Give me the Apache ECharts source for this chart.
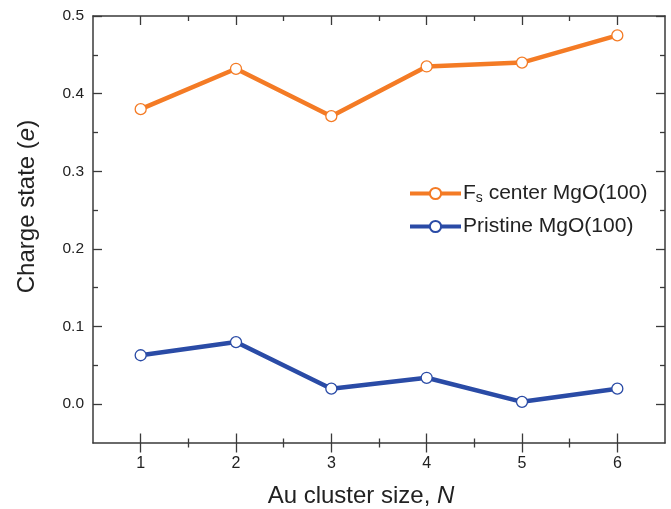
<!DOCTYPE html>
<html>
<head>
<meta charset="utf-8">
<script src="https://cdn.jsdelivr.net/npm/echarts@6/dist/echarts.min.js"></script>
<style>
html,body{margin:0;padding:0;background:#fff;}
#chart{width:671px;height:509px;}
</style>
</head>
<body>
<div id="chart"></div>
<script>
// ---- data ----
const clusterSizes = [1, 2, 3, 4, 5, 6];
const fsCenter = [0.380, 0.432, 0.371, 0.435, 0.440, 0.475];
const pristine = [0.063, 0.080, 0.020, 0.034, 0.003, 0.020];
const xMajorTicks = [1, 2, 3, 4, 5, 6];
const xMinorTicks = [1.5, 2.5, 3.5, 4.5, 5.5];
const yMajorTicks = [0.0, 0.1, 0.2, 0.3, 0.4, 0.5];
const yMinorTicks = [0.05, 0.15, 0.25, 0.35, 0.45];
const seriesNames = ['Fs center MgO(100)', 'Pristine MgO(100)'];

const FONT = 'Liberation Sans, Arial, Helvetica, sans-serif';
const AX = '#3a3a3a';
const ORANGE = '#F47B25';
const BLUE = '#2A4BA6';

const noLine = {show: false, onZero: false};
function xAx(opts) {
  return Object.assign({
    type: 'value', min: 0.5, max: 6.5, position: 'bottom', offset: 0,
    axisLine: noLine, splitLine: {show: false},
    axisLabel: {show: false}, axisTick: {show: false}
  }, opts);
}
function yAx(opts) {
  return Object.assign({
    type: 'value', min: -0.05, max: 0.5, position: 'left', offset: 0,
    axisLine: noLine, splitLine: {show: false},
    axisLabel: {show: false}, axisTick: {show: false}
  }, opts);
}
const tick = (vals, len, inside) => ({show: true, customValues: vals, length: len, inside: inside, lineStyle: {color: AX, width: 1.3}});
const line = {show: true, onZero: false, lineStyle: {color: AX, width: 1.5}};

const chart = echarts.init(document.getElementById('chart'), null, {renderer: 'canvas'});
chart.setOption({
  animation: false,
  backgroundColor: '#fff',
  textStyle: {fontFamily: FONT},
  grid: {left: 93, top: 16, right: 6, bottom: 66, containLabel: false, outerBoundsMode: 'none'},
  legend: {
    orient: 'vertical', left: 403, top: 178, itemWidth: 51, itemHeight: 14, itemGap: 11,
    data: seriesNames,
    lineStyle: {width: 4},
    formatter: function (name) {
      if (name === seriesNames[0]) return '{n|F}{sub|s}{n| center MgO(100)}';
      return '{n|' + name + '}';
    },
    textStyle: {
      fontFamily: FONT, fontSize: 21, color: '#222', padding: [0, 0, 0, -3],
      rich: {
        n: {fontFamily: FONT, fontSize: 21, color: '#222'},
        sub: {fontFamily: FONT, fontSize: 14, color: '#222', padding: [9, 0, 0, 0]}
      }
    }
  },
  xAxis: [
    xAx({
      axisLine: line,
      axisTick: tick(xMajorTicks, 9.5, false),
      axisLabel: {show: true, customValues: xMajorTicks, fontSize: 16, color: '#222', margin: 13, fontFamily: FONT},
      name: 'Au cluster size, {i|N}', nameLocation: 'middle', nameGap: 41,
      nameTextStyle: {fontSize: 24, color: '#222', fontFamily: FONT, padding: [0, 36, 0, 0],
        rich: {i: {fontSize: 24, fontStyle: 'italic', color: '#222', fontFamily: FONT}}}
    }),
    xAx({axisTick: tick(xMajorTicks, 9.5, true)}),
    xAx({axisTick: tick(xMinorTicks, 4.5, false)}),
    xAx({axisTick: tick(xMinorTicks, 4.5, true)}),
    xAx({position: 'top', axisLine: line, axisTick: tick(xMajorTicks, 9, true)}),
    xAx({position: 'top', axisTick: tick(xMinorTicks, 5, true)})
  ],
  yAxis: [
    yAx({
      axisLine: line,
      axisTick: tick(yMajorTicks, 9, true),
      axisLabel: {show: true, customValues: yMajorTicks, fontSize: 15.5, color: '#222', margin: 9, fontFamily: FONT,
        formatter: v => v.toFixed(1)},
      name: 'Charge state ({i|e})', nameLocation: 'middle', nameGap: 54, nameRotate: 90,
      nameTextStyle: {fontSize: 24, color: '#222', fontFamily: FONT, padding: [0, 0, 0, 46],
        rich: {i: {fontSize: 24, fontStyle: 'italic', color: '#222', fontFamily: FONT}}}
    }),
    yAx({axisTick: tick(yMinorTicks, 5, true)}),
    yAx({position: 'right', axisLine: line, axisTick: tick(yMajorTicks, 9, true)}),
    yAx({position: 'right', axisTick: tick(yMinorTicks, 5, true)})
  ],
  series: [
    {
      name: seriesNames[0], type: 'line', xAxisIndex: 0, yAxisIndex: 0,
      data: clusterSizes.map((n, i) => [n, fsCenter[i]]),
      lineStyle: {color: ORANGE, width: 4.5},
      itemStyle: {color: '#fff', borderColor: ORANGE, borderWidth: 1.3},
      symbol: 'circle', symbolSize: 11, z: 3
    },
    {
      name: seriesNames[1], type: 'line', xAxisIndex: 0, yAxisIndex: 0,
      data: clusterSizes.map((n, i) => [n, pristine[i]]),
      lineStyle: {color: BLUE, width: 4.5},
      itemStyle: {color: '#fff', borderColor: BLUE, borderWidth: 1.3},
      symbol: 'circle', symbolSize: 11, z: 3
    }
  ]
});
</script>
</body>
</html>
